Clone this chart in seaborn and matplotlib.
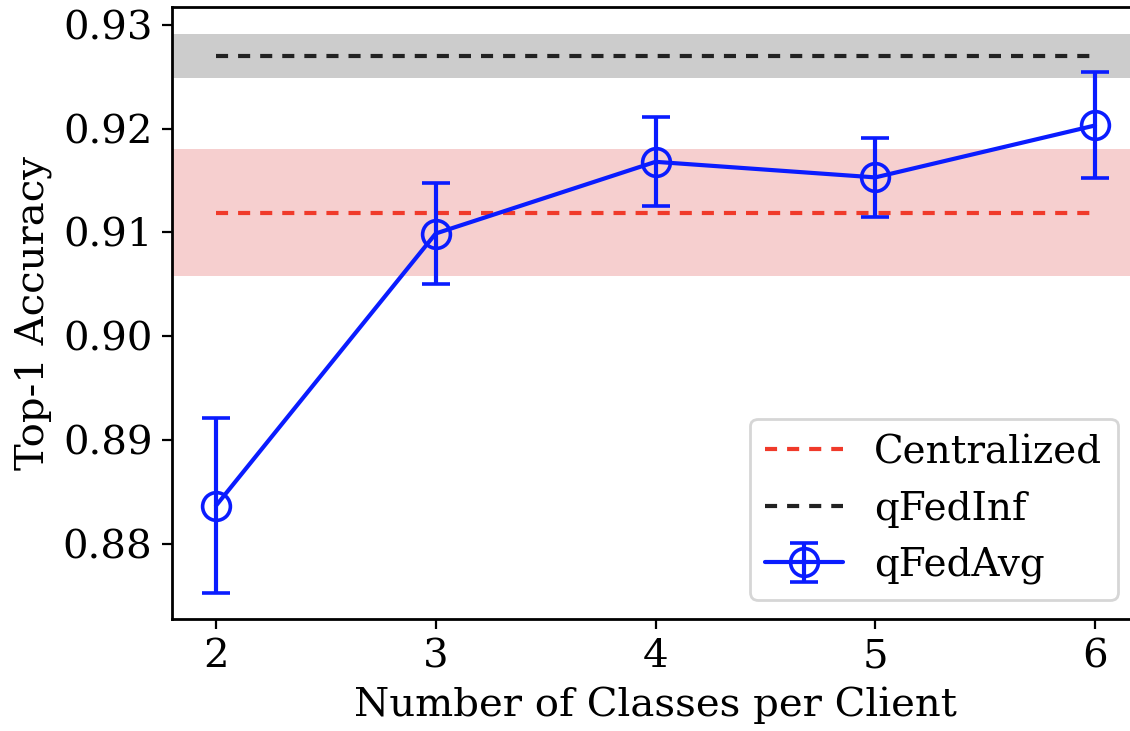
import matplotlib
matplotlib.use("Agg")
import matplotlib.pyplot as plt
import seaborn as sns
import pandas as pd

# data
classes = [2, 3, 4, 5, 6]
qfedavg_mean = [0.8837, 0.9099, 0.9168, 0.9153, 0.9203]
qfedavg_err = [0.0084, 0.0049, 0.0043, 0.0038, 0.0051]
centralized_mean = 0.9119
centralized_std = 0.0061
qfedinf_mean = 0.9270
qfedinf_std = 0.0021

sns.set_theme(style="ticks")
plt.rcParams['font.family'] = ['DejaVu Serif']
plt.rcParams.update({'font.size': 14.5, 'axes.labelsize': 14.5,
                     'axes.linewidth': 1.0, 'axes.edgecolor': 'black',
                     'text.color': 'black', 'axes.labelcolor': 'black',
                     'xtick.color': 'black', 'ytick.color': 'black'})

fig = plt.figure(figsize=(5.65, 3.655), dpi=200)
ax = fig.add_axes([172 / 1130, (731 - 619) / 731, (1139 - 172) / 1130, (619 - 7) / 731])

df = pd.DataFrame({'classes': classes,
                   'centralized': [centralized_mean] * len(classes),
                   'qfedinf': [qfedinf_mean] * len(classes)})

ax.axhspan(centralized_mean - centralized_std, centralized_mean + centralized_std,
           color='#d62728', alpha=0.22, lw=0)
ax.axhspan(qfedinf_mean - qfedinf_std, qfedinf_mean + qfedinf_std,
           color='black', alpha=0.2, lw=0)

sns.lineplot(data=df, x='classes', y='centralized', ax=ax, color='#f03a2a',
             lw=1.5, dashes=False, label='Centralized')
sns.lineplot(data=df, x='classes', y='qfedinf', ax=ax, color='#222222',
             lw=1.5, dashes=False, label='qFedInf')
for ln in ax.lines:
    ln.set_linestyle((0, (2.9, 2.4)))

ax.errorbar(classes, qfedavg_mean, yerr=qfedavg_err, color='#0a1cff', lw=1.5,
            marker='o', ms=10, mfc='none', mew=1.3, capsize=5, elinewidth=1.5,
            capthick=1.5, label='qFedAvg')

ax.set_xlim(1.8, 6.2)
ax.set_ylim(0.8728, 0.9317)
ax.set_xticks(classes)
ax.set_yticks([0.88, 0.89, 0.90, 0.91, 0.92, 0.93])
ax.set_yticklabels(['0.88', '0.89', '0.90', '0.91', '0.92', '0.93'])
ax.set_xlabel('Number of Classes per Client', fontsize=14.5)
ax.set_ylabel('Top-1 Accuracy', fontsize=14.5)
ax.tick_params(labelsize=14.5, length=3.5, width=0.8)
ax.legend(loc='lower right', bbox_to_anchor=((1118 - 172) / (1139 - 172), (619 - 600) / 612),
          borderaxespad=0, fontsize=14.0, frameon=True, handlelength=2.0)

fig.savefig('out.png', dpi=200)
